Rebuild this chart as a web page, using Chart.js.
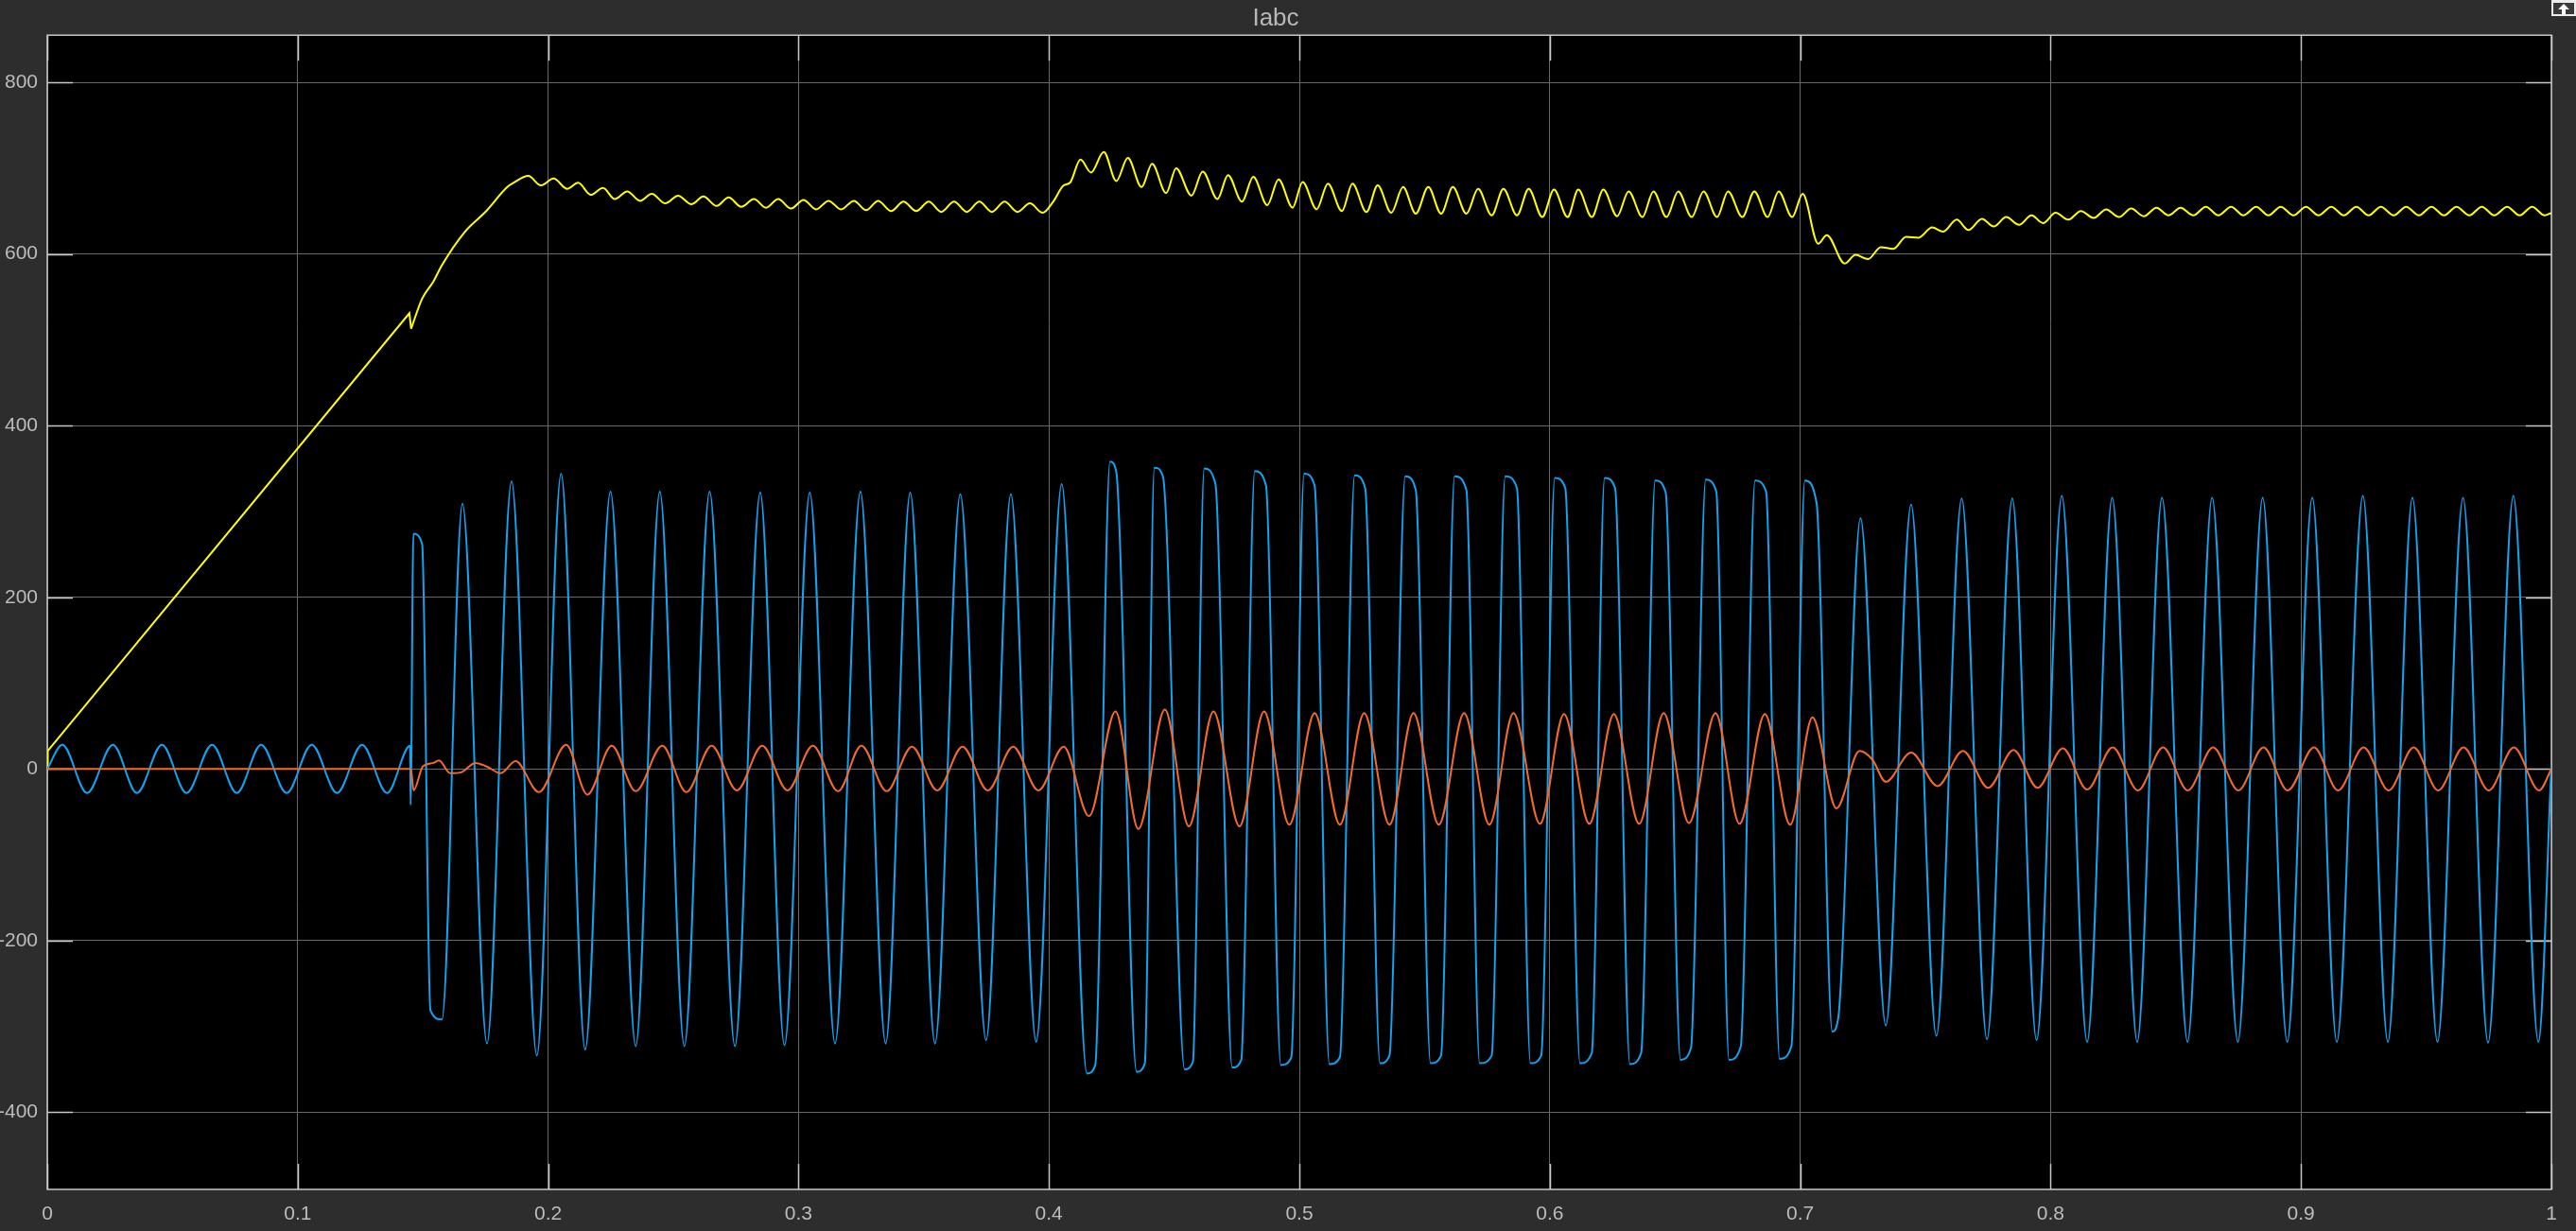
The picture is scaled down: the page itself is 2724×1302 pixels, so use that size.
<!DOCTYPE html>
<html>
<head>
<meta charset="utf-8">
<title>Iabc</title>
<script src="https://cdn.jsdelivr.net/npm/chart.js@4.4.1/dist/chart.umd.min.js"></script>
<style>
  html, body { margin: 0; padding: 0; background: #2d2d2d; }
  #wrap { width: 2724px; height: 1302px; }
</style>
</head>
<body>
<div id="wrap"><canvas id="scope" width="2724" height="1302"></canvas></div>
<script>
// tick positions / labels
const xTicks = [0, 0.1, 0.2, 0.3, 0.4, 0.5, 0.6, 0.7, 0.8, 0.9, 1];
const xTickLabels = ["0", "0.1", "0.2", "0.3", "0.4", "0.5", "0.6", "0.7", "0.8", "0.9", "1"];
const yTicks = [-400, -200, 0, 200, 400, 600, 800];

// [t, value] (peaks / troughs / corners)
// yellow start-up ramp is straight, drawn without smoothing
const yellowRampPts = [[0, 0], [0.0002, 21], [0.1446, 531], [0.1453, 513]];

const yellowPts = [
  [0.1453, 513], [0.1497, 548], [0.1542, 568],
  [0.1576, 587], [0.1668, 626], [0.1753, 650], [0.1837, 678], [0.1862, 683], [0.1921, 691],
  [0.1971, 680], [0.2022, 688], [0.2076, 676], [0.2120, 683], [0.2170, 669], [0.2219, 677],
  [0.2266, 664], [0.2316, 673], [0.2367, 662], [0.2414, 670], [0.2468, 659], [0.2519, 668],
  [0.2572, 658], [0.2620, 667], [0.2673, 656], [0.2721, 666], [0.2771, 655], [0.2822, 664],
  [0.2870, 654], [0.2919, 664], [0.2970, 653], [0.3020, 663], [0.3070, 652], [0.3120, 662],
  [0.3170, 652], [0.3221, 662], [0.3270, 651], [0.3318, 662], [0.3370, 650], [0.3419, 661],
  [0.3470, 650], [0.3520, 661], [0.3570, 649], [0.3621, 661], [0.3672, 649], [0.3722, 661],
  [0.3772, 649], [0.3823, 661], [0.3874, 649], [0.3924, 659], [0.3975, 648], [0.4017, 661],
  [0.4059, 680], [0.4084, 683], [0.4126, 710], [0.4168, 695], [0.4219, 719], [0.4269, 685],
  [0.4315, 712], [0.4370, 678], [0.4412, 705], [0.4468, 671], [0.4508, 700], [0.4569, 668],
  [0.4614, 696], [0.4673, 664], [0.4715, 692], [0.4771, 661], [0.4816, 690], [0.4872, 657],
  [0.4917, 687], [0.4973, 654], [0.5013, 684], [0.5069, 652], [0.5114, 682], [0.5170, 650],
  [0.5212, 682], [0.5268, 649], [0.5313, 680], [0.5367, 648], [0.5414, 678], [0.5465, 647],
  [0.5515, 678], [0.5566, 647], [0.5613, 678], [0.5667, 647], [0.5714, 676], [0.5768, 645],
  [0.5815, 676], [0.5869, 645], [0.5916, 676], [0.5970, 643], [0.6017, 675], [0.6071, 643],
  [0.6114, 675], [0.6168, 643], [0.6214, 675], [0.6269, 644], [0.6315, 673], [0.6370, 643],
  [0.6414, 673], [0.6466, 643], [0.6513, 673], [0.6567, 643], [0.6614, 673], [0.6668, 643],
  [0.6712, 673], [0.6769, 643], [0.6817, 673], [0.6870, 643], [0.6914, 673], [0.6968, 643],
  [0.7010, 670], [0.7072, 612], [0.7106, 622], [0.7178, 589], [0.7221, 599], [0.7271, 594],
  [0.7322, 608], [0.7372, 606], [0.7423, 620], [0.7473, 619], [0.7527, 631], [0.7571, 626],
  [0.7625, 640], [0.7672, 628], [0.7726, 641], [0.7773, 632], [0.7823, 643], [0.7874, 634],
  [0.7924, 645], [0.7970, 636], [0.8020, 648], [0.8071, 640], [0.8121, 650], [0.8172, 642],
  [0.8222, 652], [0.8273, 643], [0.8322, 653], [0.8372, 644], [0.8423, 654], [0.8471, 645],
  [0.8519, 654], [0.8570, 645], [0.8620, 655], [0.8670, 645], [0.8721, 655], [0.8770, 645],
  [0.8821, 655], [0.8870, 645], [0.8919, 655], [0.8970, 645], [0.9020, 655], [0.9070, 645],
  [0.9121, 655], [0.9171, 645], [0.9221, 655], [0.9270, 645], [0.9319, 655], [0.9370, 645],
  [0.9420, 655], [0.9471, 645], [0.9521, 655], [0.9571, 645], [0.9621, 655], [0.9672, 645],
  [0.9722, 655], [0.9772, 645], [0.9823, 655], [0.9873, 645], [0.9923, 655], [0.9973, 645],
  [1.0, 648]
];

const bluePts = [
  [0, 0], [0.0060, 28], [0.0159, -28], [0.0262, 28], [0.0358, -28], [0.0458, 28],
  [0.0556, -28], [0.0658, 28], [0.0757, -28], [0.0854, 28], [0.0956, -28], [0.1056, 28],
  [0.1157, -28], [0.1257, 28], [0.1357, -28], [0.1449, 27], [0.1451, -42], [0.1462, 274],
  [0.1497, 262], [0.1530, -281], [0.1576, -292], [0.1658, 309], [0.1756, -320], [0.1854, 335],
  [0.1955, -334], [0.2052, 344], [0.2148, -327], [0.2249, 323], [0.2350, -323], [0.2446, 323],
  [0.2544, -323], [0.2645, 323], [0.2746, -323], [0.2847, 322], [0.2944, -322], [0.3045, 322],
  [0.3146, -320], [0.3247, 323], [0.3348, -320], [0.3446, 322], [0.3545, -320], [0.3646, 320],
  [0.3749, -316], [0.3848, 320], [0.3949, -318], [0.4051, 332], [0.4152, -355], [0.4185, -345],
  [0.4244, 358], [0.4269, 346], [0.4350, -353], [0.4383, -343], [0.4421, 351], [0.4455, 341],
  [0.4542, -350], [0.4575, -341], [0.4620, 350], [0.4665, 332], [0.4732, -348], [0.4768, -339],
  [0.4822, 347], [0.4867, 330], [0.4926, -345], [0.4968, -336], [0.5019, 344], [0.5061, 330],
  [0.5120, -344], [0.5162, -336], [0.5221, 342], [0.5263, 327], [0.5322, -343], [0.5360, -334],
  [0.5423, 341], [0.5465, 325], [0.5524, -343], [0.5566, -334], [0.5620, 341], [0.5667, 325],
  [0.5720, -343], [0.5768, -334], [0.5822, 341], [0.5869, 327], [0.5923, -343], [0.5966, -334],
  [0.6020, 339], [0.6062, 327], [0.6121, -343], [0.6168, -331], [0.6219, 339], [0.6261, 327],
  [0.6320, -344], [0.6365, -331], [0.6421, 336], [0.6463, 322], [0.6522, -339], [0.6564, -325],
  [0.6623, 337], [0.6665, 323], [0.6716, -339], [0.6763, -323], [0.6820, 336], [0.6864, 323],
  [0.6918, -338], [0.6965, -323], [0.7019, 336], [0.7066, 309], [0.7128, -306], [0.7153, -288],
  [0.7241, 292], [0.7342, -299], [0.7443, 308], [0.7544, -311], [0.7645, 315], [0.7746, -315],
  [0.7847, 315], [0.7944, -316], [0.8045, 318], [0.8146, -318], [0.8246, 316], [0.8346, -318],
  [0.8445, 316], [0.8547, -318], [0.8645, 316], [0.8748, -318], [0.8847, 316], [0.8945, -318],
  [0.9045, 316], [0.9143, -318], [0.9247, 318], [0.9347, -318], [0.9445, 316], [0.9545, -318],
  [0.9647, 316], [0.9747, -319], [0.9848, 318], [0.9948, -318], [1.0, 5]
];

const orangePts = [
  [0, 0], [0.1452, 0], [0.1463, -25], [0.1500, 3], [0.1542, 7], [0.1564, 10],
  [0.1609, -5], [0.1652, -4], [0.1710, 7], [0.1753, 3], [0.1811, -5], [0.1870, 9],
  [0.1963, -27], [0.2072, 28], [0.2157, -30], [0.2254, 27], [0.2350, -26], [0.2456, 27],
  [0.2552, -27], [0.2653, 27], [0.2754, -25], [0.2855, 27], [0.2956, -25], [0.3057, 27],
  [0.3158, -26], [0.3251, 27], [0.3352, -26], [0.3453, 26], [0.3554, -25], [0.3655, 26],
  [0.3756, -25], [0.3857, 26], [0.3958, -25], [0.4059, 26], [0.4160, -55], [0.4266, 67],
  [0.4357, -70], [0.4463, 69], [0.4559, -67], [0.4657, 67], [0.4761, -67], [0.4859, 67],
  [0.4960, -65], [0.5061, 65], [0.5162, -65], [0.5259, 65], [0.5360, -65], [0.5456, 65],
  [0.5557, -65], [0.5658, 65], [0.5759, -65], [0.5855, 65], [0.5961, -64], [0.6057, 64],
  [0.6158, -64], [0.6256, 64], [0.6357, -64], [0.6455, 65], [0.6556, -63], [0.6662, 65],
  [0.6758, -64], [0.6859, 64], [0.6960, -65], [0.7049, 60], [0.7145, -46], [0.7237, 21],
  [0.7288, 11], [0.7342, -15], [0.7443, 19], [0.7549, -20], [0.7650, 21], [0.7751, -22],
  [0.7852, 22], [0.7948, -22], [0.8049, 24], [0.8146, -24], [0.8248, 25], [0.8349, -25],
  [0.8449, 25], [0.8548, -25], [0.8649, 25], [0.8750, -25], [0.8850, 25], [0.8947, -25],
  [0.9052, 25], [0.9148, -25], [0.9250, 25], [0.9350, -25], [0.9450, 25], [0.9548, -25],
  [0.9649, 25], [0.9750, -25], [0.9850, 25], [0.9951, -25], [1.0, 0]
];

const FONT = "'Liberation Sans', Arial, sans-serif";

const toXY = pts => pts.map(p => ({ x: p[0], y: p[1] }));

function trace(label, pts, color, order, smooth) {
  const ds = {
    label: label,
    data: toXY(pts),
    borderColor: color,
    borderWidth: 2,
    pointRadius: 0,
    fill: false,
    order: order
  };
  if (smooth) ds.cubicInterpolationMode = "monotone";
  else ds.tension = 0;
  return ds;
}

// black plot area, inside tick marks, frame, undock button
const scopeFrame = {
  id: "scopeFrame",
  beforeDraw(chart) {
    const { ctx, chartArea: a } = chart;
    ctx.save();
    ctx.fillStyle = "#000000";
    ctx.fillRect(a.left, a.top, a.right - a.left, a.bottom - a.top);
    ctx.restore();
  },
  beforeDatasetsDraw(chart) {
    const { ctx, chartArea: a, scales } = chart;
    ctx.save();
    ctx.strokeStyle = "#c8c8c8";
    ctx.lineWidth = 1.5;
    ctx.beginPath();
    xTicks.forEach(v => {
      const px = Math.round(scales.x.getPixelForValue(v)) + 0.5;
      ctx.moveTo(px, a.bottom); ctx.lineTo(px, a.bottom - 27);
      ctx.moveTo(px, a.top); ctx.lineTo(px, a.top + 27);
    });
    yTicks.forEach(v => {
      const py = Math.round(scales.y.getPixelForValue(v)) + 0.5;
      ctx.moveTo(a.left, py); ctx.lineTo(a.left + 27, py);
      ctx.moveTo(a.right, py); ctx.lineTo(a.right - 27, py);
    });
    ctx.stroke();
    ctx.strokeRect(a.left, a.top, a.right - a.left, a.bottom - a.top);
    ctx.restore();
  },
  afterDraw(chart) {
    const ctx = chart.ctx;
    const x0 = chart.width - 26;
    ctx.save();
    ctx.fillStyle = "#ececec";
    ctx.fillRect(x0, 0, 26, 17);
    ctx.fillStyle = "#3a3a3a";
    ctx.fillRect(x0 + 2, 3, 22, 12);
    ctx.fillStyle = "#ffffff";
    ctx.beginPath();
    ctx.moveTo(x0 + 13, 4); ctx.lineTo(x0 + 19, 10); ctx.lineTo(x0 + 15, 10);
    ctx.lineTo(x0 + 15, 15); ctx.lineTo(x0 + 11, 15); ctx.lineTo(x0 + 11, 10);
    ctx.lineTo(x0 + 7, 10); ctx.closePath();
    ctx.fill();
    ctx.restore();
  }
};

const ctx = document.getElementById("scope").getContext("2d");
new Chart(ctx, {
  type: "line",
  data: {
    datasets: [
      trace("Ia", yellowRampPts, "#ffff00", 2, false),
      trace("Ia", yellowPts, "#ffff00", 2, true),
      trace("Ib", bluePts, "#12a3f2", 1, true),
      trace("Ic", orangePts, "#f46a2c", 0, true)
    ]
  },
  options: {
    responsive: false,
    animation: false,
    events: [],
    layout: { padding: { left: 0, right: 26, top: 0, bottom: 0 } },
    plugins: {
      legend: { display: false },
      tooltip: { enabled: false },
      title: {
        display: true,
        text: "Iabc",
        color: "#b8b8b8",
        font: { family: FONT, size: 26, weight: "normal", lineHeight: 1.2 },
        padding: { top: 4, bottom: 2 }
      }
    },
    scales: {
      x: {
        type: "linear",
        min: 0,
        max: 1,
        afterBuildTicks: s => { s.ticks = xTicks.map(v => ({ value: v })); },
        afterFit: s => { s.height = 44; },
        grid: { color: "#686868", lineWidth: 1, drawTicks: false },
        border: { display: false },
        ticks: {
          color: "#bcbcbc",
          font: { family: FONT, size: 21 },
          padding: 14,
          autoSkip: false,
          maxRotation: 0,
          callback: (v, i) => xTickLabels[i]
        }
      },
      y: {
        type: "linear",
        min: -490,
        max: 855,
        afterBuildTicks: s => { s.ticks = yTicks.map(v => ({ value: v })); },
        afterFit: s => { s.width = 50; },
        grid: { color: "#686868", lineWidth: 1, drawTicks: false },
        border: { display: false },
        ticks: {
          color: "#bcbcbc",
          font: { family: FONT, size: 21 },
          padding: 10,
          autoSkip: false,
          callback: v => String(v)
        }
      }
    }
  },
  plugins: [scopeFrame]
});
</script>
</body>
</html>
